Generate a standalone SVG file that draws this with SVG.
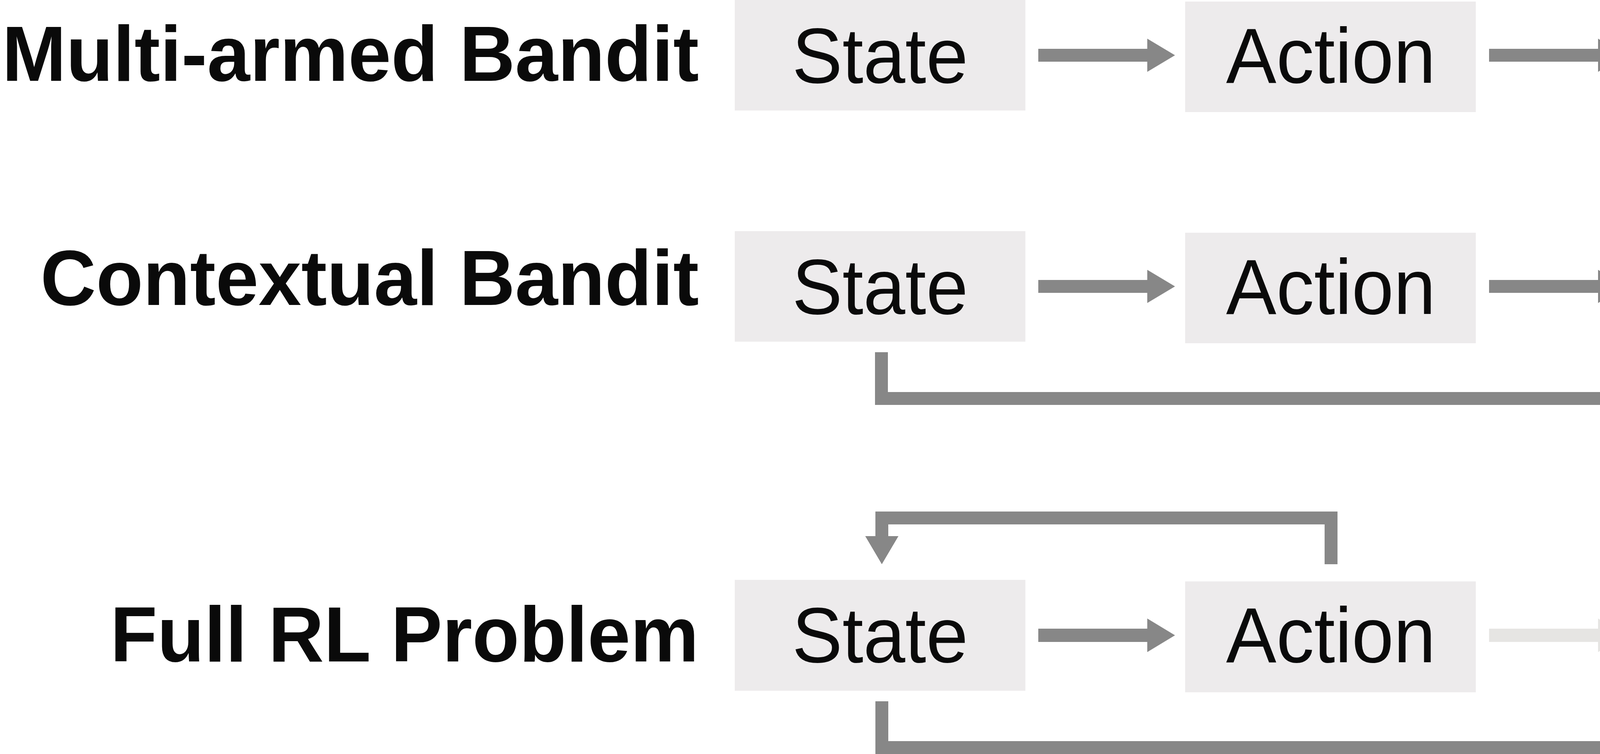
<svg xmlns="http://www.w3.org/2000/svg" width="4933" height="1931" viewBox="0 0 4933 1931">
<style>
.box{fill:#edebec}
.lbl{font-family:"Liberation Sans",Arial,sans-serif;font-weight:bold;font-size:197px;fill:#0a0a0a;text-anchor:end}
.nt{font-family:"Liberation Sans",Arial,sans-serif;font-size:193px;fill:#0a0a0a;text-anchor:middle}
.ln{fill:none;stroke:#878787;stroke-width:33;stroke-linejoin:miter;stroke-linecap:butt}
.hd{fill:#878787}
.light{fill:#e6e5e3}
</style>
<rect width="4933" height="1931" fill="#ffffff"/>
<g id="labels">
<text class="lbl" transform="translate(1789,207) scale(1,1.02)">Multi-armed Bandit</text>
<text class="lbl" transform="translate(1789,781) scale(1,1.02)">Contextual Bandit</text>
<text class="lbl" transform="translate(1789,1694) scale(1,1.02)">Full RL Problem</text>
</g>
<g id="row1-state"><rect class="box" x="1881" y="0" width="744" height="283"/><text class="nt" transform="translate(2253,212) scale(1,1.04)">State</text></g>
<g id="row1-action"><rect class="box" x="3034" y="4" width="744" height="283"/><text class="nt" transform="translate(3407,212) scale(1,1.04)">Action</text></g>
<g id="row1-reward"><rect class="box" x="4188" y="4" width="745" height="283"/><text class="nt" transform="translate(4560,212) scale(1,1.04)">Reward</text></g>
<g id="row2-state"><rect class="box" x="1881" y="592" width="744" height="283"/><text class="nt" transform="translate(2253,804) scale(1,1.04)">State</text></g>
<g id="row2-action"><rect class="box" x="3034" y="596" width="744" height="283"/><text class="nt" transform="translate(3407,804) scale(1,1.04)">Action</text></g>
<g id="row2-reward"><rect class="box" x="4188" y="596" width="745" height="283"/><text class="nt" transform="translate(4560,804) scale(1,1.04)">Reward</text></g>
<g id="row3-state"><rect class="box" x="1881" y="1485" width="744" height="284"/><text class="nt" transform="translate(2253,1696) scale(1,1.04)">State</text></g>
<g id="row3-action"><rect class="box" x="3034" y="1489" width="744" height="284"/><text class="nt" transform="translate(3407,1696) scale(1,1.04)">Action</text></g>
<g id="row3-reward"><rect class="box" x="4188" y="1489" width="745" height="284"/><text class="nt" transform="translate(4560,1696) scale(1,1.04)">Reward</text></g>
<g id="connectors">
<polygon class="hd" points="2658,125 2937,125 2937,99 3008,141.5 2937,184 2937,158 2658,158"/>
<polygon class="hd" points="3812,125 4091,125 4091,99 4162,141.5 4091,184 4091,158 3812,158"/>
<polygon class="hd" points="2658,717 2937,717 2937,691 3008,733.5 2937,776 2937,750 2658,750"/>
<polygon class="hd" points="3812,717 4091,717 4091,691 4162,733.5 4091,776 4091,750 3812,750"/>
<path class="ln" d="M2256.5,902 V1020.5 H4560 V972"/>
<polygon class="hd" points="4517,973 4603,973 4560,902"/>
<polygon class="hd" points="2658,1610 2937,1610 2937,1584 3008,1627 2937,1670 2937,1644 2658,1644"/>
<polygon class="light" points="3812,1610 4091,1610 4091,1584 4162,1627 4091,1670 4091,1644 3812,1644"/>
<path class="ln" d="M3407.5,1445 V1326.5 H2257.5 V1374"/>
<polygon class="hd" points="2215,1373 2300,1373 2257.5,1445"/>
<path class="ln" d="M2257.5,1796 V1914.5 H4561 V1866"/>
<polygon class="hd" points="4518,1867 4604,1867 4561,1796"/>
</g>
</svg>
